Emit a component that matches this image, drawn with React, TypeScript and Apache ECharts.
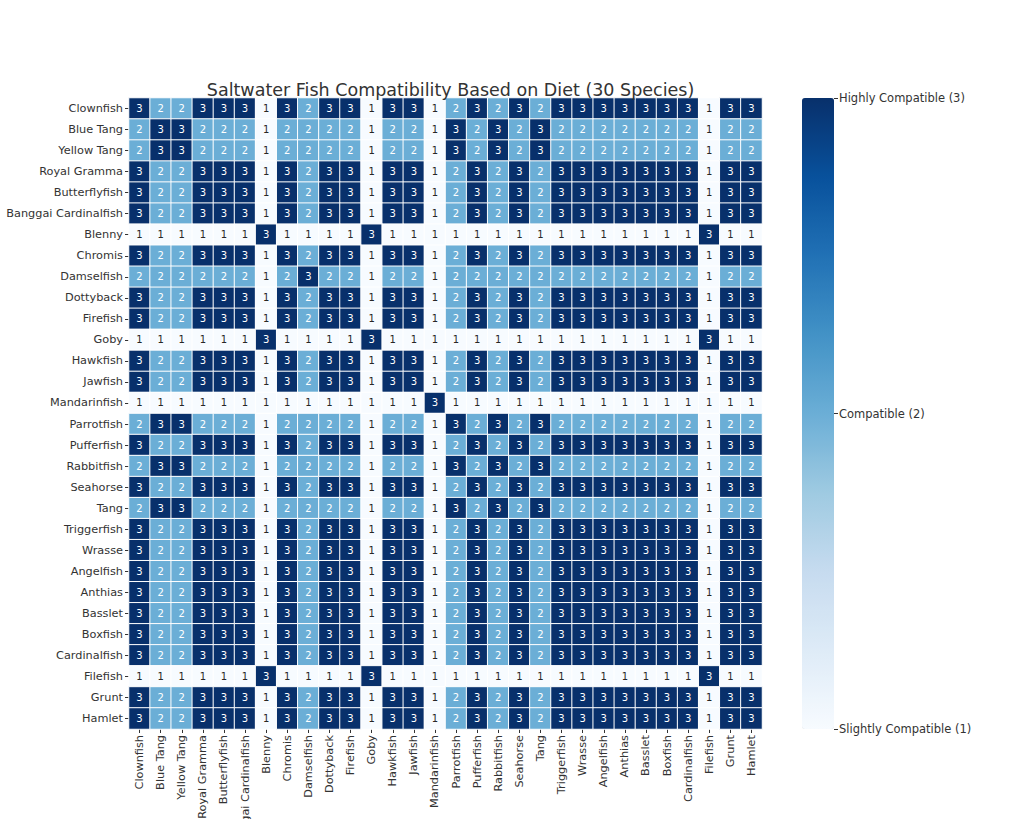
import React, { useEffect, useRef } from "react";
import * as echarts from "echarts";

const species: string[] = [
  "Clownfish", "Blue Tang", "Yellow Tang", "Royal Gramma", "Butterflyfish",
  "Banggai Cardinalfish", "Blenny", "Chromis", "Damselfish", "Dottyback",
  "Firefish", "Goby", "Hawkfish", "Jawfish", "Mandarinfish",
  "Parrotfish", "Pufferfish", "Rabbitfish", "Seahorse", "Tang",
  "Triggerfish", "Wrasse", "Angelfish", "Anthias", "Basslet",
  "Boxfish", "Cardinalfish", "Filefish", "Grunt", "Hamlet",
];

// one string per row (top to bottom), one digit per column (left to right)
const matrixRows: string[] = [
  "322333132331331232323333333133", // Clownfish
  "233222122221221323232222222122", // Blue Tang
  "233222122221221323232222222122", // Yellow Tang
  "322333132331331232323333333133", // Royal Gramma
  "322333132331331232323333333133", // Butterflyfish
  "322333132331331232323333333133", // Banggai Cardinalfish
  "111111311113111111111111111311", // Blenny
  "322333132331331232323333333133", // Chromis
  "222222123221221222222222222122", // Damselfish
  "322333132331331232323333333133", // Dottyback
  "322333132331331232323333333133", // Firefish
  "111111311113111111111111111311", // Goby
  "322333132331331232323333333133", // Hawkfish
  "322333132331331232323333333133", // Jawfish
  "111111111111113111111111111111", // Mandarinfish
  "233222122221221323232222222122", // Parrotfish
  "322333132331331232323333333133", // Pufferfish
  "233222122221221323232222222122", // Rabbitfish
  "322333132331331232323333333133", // Seahorse
  "233222122221221323232222222122", // Tang
  "322333132331331232323333333133", // Triggerfish
  "322333132331331232323333333133", // Wrasse
  "322333132331331232323333333133", // Angelfish
  "322333132331331232323333333133", // Anthias
  "322333132331331232323333333133", // Basslet
  "322333132331331232323333333133", // Boxfish
  "322333132331331232323333333133", // Cardinalfish
  "111111311113111111111111111311", // Filefish
  "322333132331331232323333333133", // Grunt
  "322333132331331232323333333133", // Hamlet
];

const levelLabels: Record<number, string> = {
  1: "Slightly Compatible (1)",
  2: "Compatible (2)",
  3: "Highly Compatible (3)",
};

const blues = [
  "#f7fbff", "#deebf7", "#c6dbef", "#9ecae1", "#6baed6",
  "#4292c6", "#2171b5", "#08519c", "#08306b",
];

const FONT = "DejaVu Sans";

export default function App() {
  const ref = useRef<HTMLDivElement>(null);

  useEffect(() => {
    document.body.style.margin = "0";
    if (!ref.current) return;
    const chart = echarts.init(ref.current, null, { renderer: "svg" });

    const data: any[] = [];
    matrixRows.forEach((row, y) => {
      row.split("").forEach((ch, x) => {
        const v = Number(ch);
        data.push({
          value: [x, y, v],
          label: { color: v >= 2 ? "#ffffff" : "#262626" },
        });
      });
    });

    const gL = 129, gT = 98, gW = 633, gH = 631;

    chart.setOption({
      animation: false,
      backgroundColor: "#ffffff",
      textStyle: { fontFamily: FONT },
      title: {
        text: "Saltwater Fish Compatibility Based on Diet (30 Species)",
        left: gL + gW / 2,
        textAlign: "center",
        top: 76,
        textStyle: { fontFamily: FONT, fontSize: 17.5, fontWeight: "normal", color: "#333" },
      },
      grid: [
        { left: gL, top: gT, width: gW, height: gH, outerBoundsMode: "none", containLabel: false },
        { left: 802, top: gT, width: 32, height: gH, outerBoundsMode: "none", containLabel: false },
      ],
      xAxis: [
        {
          type: "category",
          data: species,
          gridIndex: 0,
          position: "bottom",
          axisLine: { show: false },
          axisTick: { show: true, alignWithLabel: true, length: 4, lineStyle: { color: "#333" } },
          axisLabel: { rotate: 90, fontSize: 11.3, color: "#333", margin: 6, interval: 0, fontFamily: FONT },
          splitLine: { show: false },
          z: 0,
        },
        { type: "value", gridIndex: 1, show: false, min: 0, max: 1 },
      ],
      yAxis: [
        {
          type: "category",
          data: species,
          gridIndex: 0,
          inverse: true,
          name: "Fish Species",
          nameLocation: "middle",
          nameGap: 128,
          nameTextStyle: { fontSize: 14, color: "#333", fontFamily: FONT },
          axisLine: { show: false },
          axisTick: { show: true, alignWithLabel: true, length: 4, lineStyle: { color: "#333" } },
          axisLabel: { fontSize: 11.3, color: "#333", margin: 6, interval: 0, fontFamily: FONT },
          splitLine: { show: false },
          z: 0,
        },
        {
          type: "value",
          gridIndex: 1,
          position: "right",
          min: 1,
          max: 3,
          interval: 1,
          z: 10,
          axisLine: { show: false, onZero: false },
          axisTick: { show: true, inside: false, length: 4, lineStyle: { color: "#333" } },
          axisLabel: {
            fontSize: 11.5,
            color: "#333",
            margin: 5,
            fontFamily: FONT,
            formatter: (v: number) => levelLabels[v] || "",
          },
          splitLine: { show: false },
        },
      ],
      visualMap: {
        type: "continuous",
        min: 1,
        max: 3,
        seriesIndex: 0,
        calculable: false,
        orient: "vertical",
        left: 802,
        top: gT,
        padding: 0,
        itemWidth: 32,
        itemHeight: gH,
        text: ["", ""],
        showLabel: false,
        inRange: { color: blues },
        textStyle: { color: "transparent" },
      },
      series: [
        {
          type: "heatmap",
          xAxisIndex: 0,
          yAxisIndex: 0,
          data,
          label: { show: true, fontSize: 10, fontFamily: FONT },
          itemStyle: { borderColor: "#ffffff", borderWidth: 1 },
          emphasis: { disabled: true },
          z: 2,
        },
        {
          type: "line",
          xAxisIndex: 1,
          yAxisIndex: 1,
          data: [],
        },
      ],
    });

    return () => chart.dispose();
  }, []);

  return <div ref={ref} style={{ width: 1024, height: 819 }} />;
}
